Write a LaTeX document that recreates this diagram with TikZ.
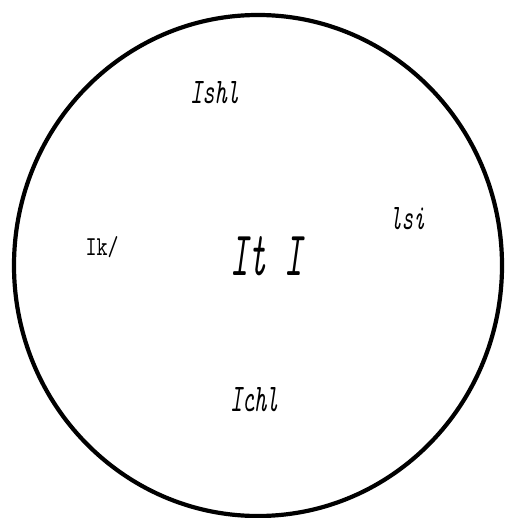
\documentclass[tikz,border=0pt]{standalone}
\usepackage{graphicx}
\usetikzlibrary{shapes.geometric}
\tikzset{
  ring/.style={draw=black, line width=4.2pt},
  lbl/.style={inner sep=0pt, outer sep=0pt, text=black},
}
\begin{document}
\begin{tikzpicture}[x=1pt,y=-1pt]
\useasboundingbox (0,0) rectangle (506,518);
\node[ring, ellipse, minimum width=488pt, minimum height=501pt, inner sep=0pt] (circ) at (258,265.5) {};
\node[lbl] (ishl) at (214.5,93) {\resizebox{49pt}{22pt}{\ttfamily\itshape Ishl}};
\node[lbl] (lsi) at (407.5,219) {\resizebox{35pt}{22pt}{\ttfamily\itshape lsi}};
\node[lbl] (ik) at (102,247) {\resizebox{33pt}{19pt}{\ttfamily Ik/}};
\node[lbl] (iti) at (266.5,256.5) {\resizebox{73pt}{39pt}{\ttfamily\itshape It I}};
\node[lbl] (ichl) at (254.5,400) {\resizebox{49pt}{24pt}{\ttfamily\itshape Ichl}};
\end{tikzpicture}
\end{document}
